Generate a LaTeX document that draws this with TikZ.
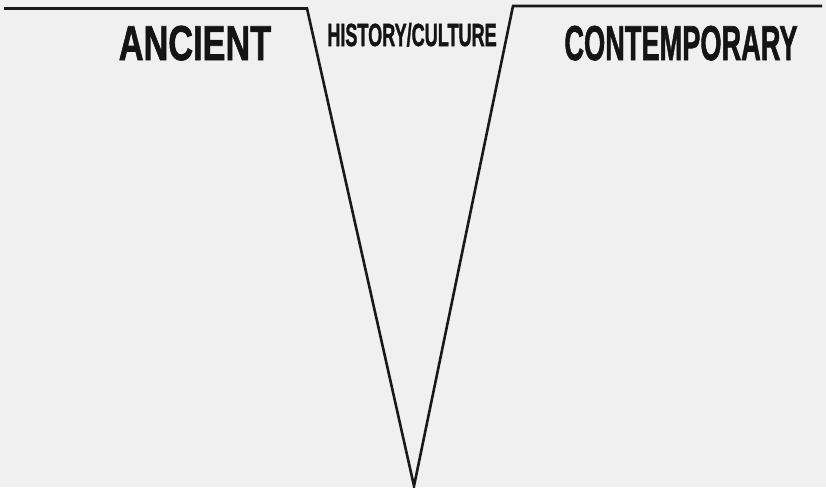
\documentclass[tikz,border=0pt]{standalone}
\usepackage{fontspec}
\setmainfont{Liberation Sans}[BoldFeatures={FakeBold=1.6}]
\begin{document}
\begin{tikzpicture}[x=1pt,y=-1pt,
  edge/.style={line width=2.6pt,line join=miter,black!90},
  bigtext/.style={inner sep=0pt,anchor=base,font=\fontsize{49}{49}\selectfont\bfseries,text=black!92},
  smalltext/.style={inner sep=0pt,anchor=base,font=\fontsize{32}{32}\selectfont\bfseries,text=black!92}]
  \fill[black!6] (0,0) rectangle (826,487);
  \useasboundingbox (0,0) rectangle (826,487);
  \coordinate (L0) at (4,8.5);
  \coordinate (L1) at (307,8.5);
  \coordinate (V) at (414,486);
  \coordinate (R1) at (513,6);
  \coordinate (R0) at (822,6);
  \draw[edge] (L0) -- (L1) -- (V) -- (R1) -- (R0);
  \node[bigtext,xscale=0.70] (ancient) at (195,60) {ANCIENT};
  \node[bigtext,xscale=0.555] (contemp) at (681,60) {CONTEMPORARY};
  \node[smalltext,xscale=0.565] (hist) at (412,46) {HISTORY/CULTURE};
\end{tikzpicture}
\end{document}
